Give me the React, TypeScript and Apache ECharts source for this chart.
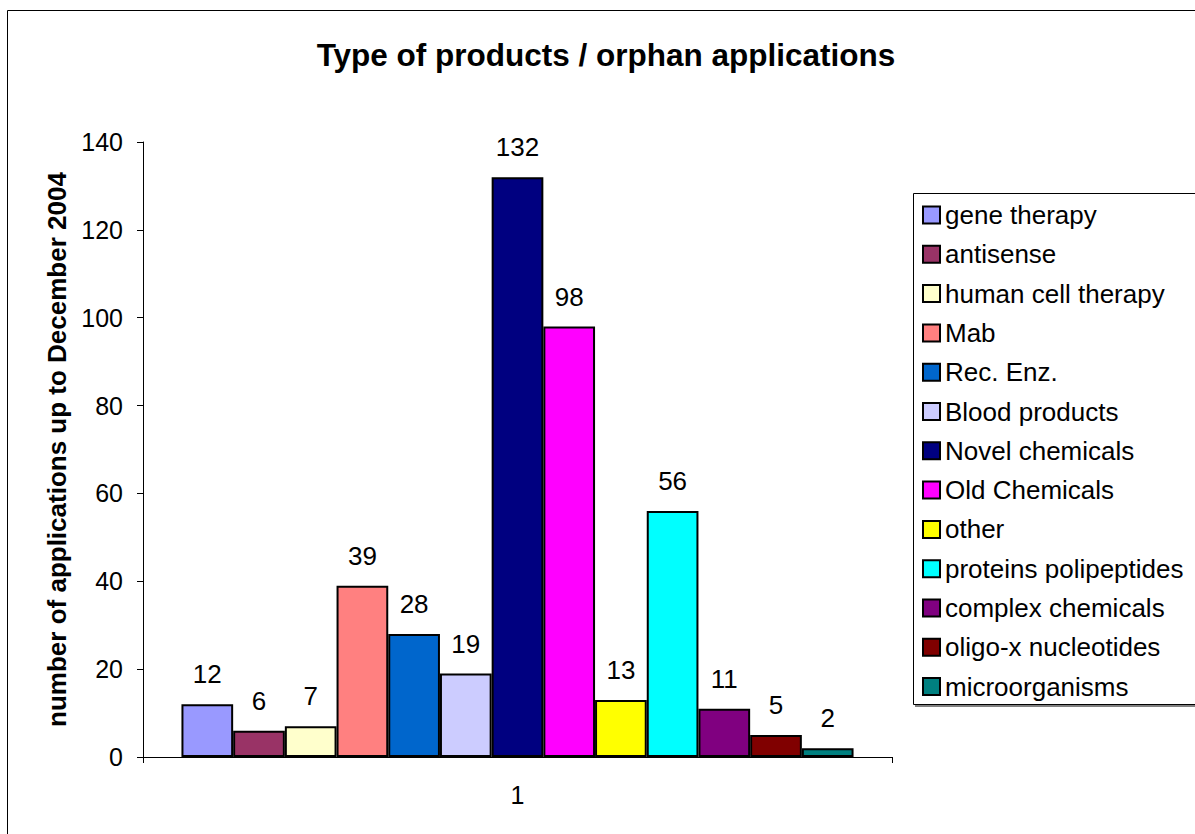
import React, { useEffect, useRef } from "react";
import * as echarts from "echarts";

const categories = ["1"];
const seriesNames = [
  "gene therapy",
  "antisense",
  "human cell therapy",
  "Mab",
  "Rec. Enz.",
  "Blood products",
  "Novel chemicals",
  "Old Chemicals",
  "other",
  "proteins polipeptides",
  "complex chemicals",
  "oligo-x nucleotides",
  "microorganisms",
];
const seriesValues = [12, 6, 7, 39, 28, 19, 132, 98, 13, 56, 11, 5, 2];
const seriesColors = [
  "#9999FF",
  "#993366",
  "#FFFFCC",
  "#FF8080",
  "#0066CC",
  "#CCCCFF",
  "#000080",
  "#FF00FF",
  "#FFFF00",
  "#00FFFF",
  "#800080",
  "#800000",
  "#008080",
];
const yTicks = { min: 0, max: 140, interval: 20 };

const FONT = "'Liberation Sans', Arial, sans-serif";

export default function App() {
  const ref = useRef<HTMLDivElement>(null);

  useEffect(() => {
    if (!ref.current) return;
    const chart = echarts.init(ref.current, undefined, { renderer: "svg" });

    const series = seriesNames.map((name, i) => ({
      name,
      type: "bar" as const,
      data: [seriesValues[i]],
      barWidth: 51.7,
      barGap: "0%",
      itemStyle: {
        color: seriesColors[i],
        borderColor: "#000",
        borderWidth: 2,
      },
      label: {
        show: true,
        position: "top" as const,
        distance: 17,
        color: "#000",
        fontSize: 26,
        fontFamily: FONT,
      },
    }));

    chart.setOption({
      animation: false,
      backgroundColor: "#fff",
      textStyle: { fontFamily: FONT },
      title: {
        text: "Type of products / orphan applications",
        left: 606,
        top: 39,
        padding: 0,
        textAlign: "center",
        textStyle: {
          fontSize: 31.5,
          fontWeight: "bold",
          color: "#000",
          fontFamily: FONT,
        },
      },
      legend: {
        orient: "vertical",
        left: 922,
        top: 202,
        padding: 0,
        icon: "rect",
        itemWidth: 17,
        itemHeight: 17,
        itemGap: 13.3,
        textStyle: {
          fontSize: 26,
          color: "#000",
          fontFamily: FONT,
          lineHeight: 26,
        },
        itemStyle: { borderColor: "#000", borderWidth: 2 },
        data: seriesNames,
      },
      grid: { left: 143, right: 303, top: 142, bottom: 77 },
      xAxis: {
        type: "category",
        data: categories,
        axisLine: { lineStyle: { color: "#000", width: 1 } },
        axisTick: { show: true, length: 6, lineStyle: { color: "#000" } },
        axisLabel: {
          color: "#000",
          fontSize: 25,
          margin: 25,
          fontFamily: FONT,
        },
      },
      yAxis: {
        type: "value",
        min: yTicks.min,
        max: yTicks.max,
        interval: yTicks.interval,
        name: "number of applications up to December 2004",
        nameLocation: "middle",
        nameGap: 73,
        nameTextStyle: {
          fontSize: 26,
          fontWeight: "bold",
          color: "#000",
          fontFamily: FONT,
        },
        axisLine: { show: true, lineStyle: { color: "#000", width: 1 } },
        axisTick: { show: true, length: 6, lineStyle: { color: "#000" } },
        splitLine: { show: false },
        axisLabel: {
          color: "#000",
          fontSize: 25,
          margin: 20,
          fontFamily: FONT,
        },
      },
      graphic: [
        {
          type: "rect",
          shape: { x: 7.5, y: 10.5, width: 1300, height: 1000 },
          style: { fill: "none", stroke: "#000", lineWidth: 1 },
          silent: true,
        },
        {
          type: "rect",
          shape: { x: 915, y: 196, width: 400, height: 511 },
          style: { fill: "#808080" },
          silent: true,
          z: -1,
        },
        {
          type: "rect",
          shape: { x: 913.5, y: 193.5, width: 400, height: 511 },
          style: { fill: "#fff", stroke: "#000", lineWidth: 1 },
          silent: true,
          z: -1,
        },
      ],
      series,
    });

    return () => chart.dispose();
  }, []);

  return (
    <div
      ref={ref}
      style={{ position: "absolute", left: 0, top: 0, width: 1195, height: 834 }}
    />
  );
}
